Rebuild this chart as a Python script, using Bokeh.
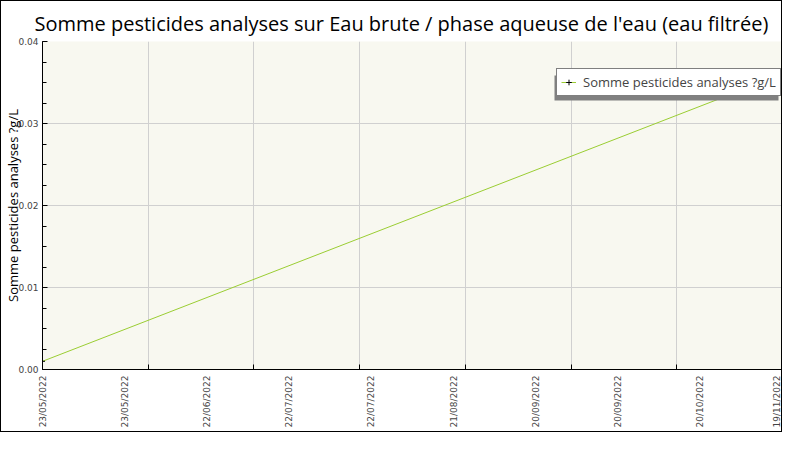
import numpy as np
import pandas as pd
from bokeh.plotting import figure
from bokeh.models import (Range1d, FixedTicker, Legend, LegendItem, BoxAnnotation,
                          CustomJSTickFormatter, NumeralTickFormatter)
from bokeh.embed import file_html
from bokeh.resources import INLINE

# ---- data ----
dates = ["2022-05-23", "2022-11-19"]
values = [0.001, 0.036]
series_name = "Somme pesticides analyses ?g/L"
x_tick_labels = ["23/05/2022", "23/05/2022", "22/06/2022", "22/07/2022", "22/07/2022",
                 "21/08/2022", "20/09/2022", "20/09/2022", "20/10/2022", "19/11/2022"]
y_ticks = [0.0, 0.01, 0.02, 0.03, 0.04]
title_text = "Somme pesticides analyses sur Eau brute / phase aqueuse de l'eau (eau filtrée)"
y_label = "Somme pesticides analyses ?g/L"

t = pd.to_datetime(dates)
ms = ((t - pd.Timestamp("1970-01-01")) // pd.Timedelta(milliseconds=1)).astype(float)
x0, x1 = float(ms.min()), float(ms.max())
n_lab = len(x_tick_labels)
lab_step = (x1 - x0) / (n_lab - 1)
lab_pos = [x0 + i * lab_step for i in range(n_lab)]
grid_pos = list(np.linspace(x0, x1, 8))

p = figure(width=782, height=432, x_axis_type="datetime",
           x_range=Range1d(x0, x1), y_range=Range1d(y_ticks[0], y_ticks[-1]),
           output_backend="svg", toolbar_location=None,
           min_border_left=41, min_border_right=1, min_border_top=40, min_border_bottom=64)
p.styles = {"border": "1px solid black"}

p.background_fill_color = "#f8f8f0"
p.border_fill_color = "white"
p.outline_line_color = None

# title
p.title.text = title_text
p.title.text_font = "Open Sans"
p.title.text_font_size = "20px"
p.title.text_font_style = "normal"
p.title.align = "left"
p.title.offset = -8
p.title.text_color = "black"

# grids
p.xgrid.ticker = FixedTicker(ticks=grid_pos)
p.ygrid.ticker = FixedTicker(ticks=y_ticks)
p.xgrid.grid_line_color = "#d0d0d0"
p.ygrid.grid_line_color = "#d0d0d0"

# x axis
xa = p.xaxis[0]
xa.ticker = FixedTicker(ticks=lab_pos, minor_ticks=grid_pos)
xa.formatter = CustomJSTickFormatter(args=dict(labels=x_tick_labels, x0=x0, step=lab_step),
                                     code="return labels[Math.round((tick - x0) / step)];")
xa.major_label_orientation = np.pi / 2
xa.major_tick_in = 0
xa.major_tick_out = 0
xa.minor_tick_in = 5
xa.minor_tick_out = 0
xa.major_label_text_font = "DejaVu Sans"
xa.major_label_text_font_size = "9px"
xa.major_label_text_color = "#444444"
xa.major_label_standoff = 6
xa.axis_line_color = "black"

# y axis
ya = p.yaxis[0]
ya.ticker = FixedTicker(ticks=y_ticks, minor_ticks=list(np.arange(0, 0.04001, 0.0025)))
ya.formatter = NumeralTickFormatter(format="0.00")
ya.major_tick_in = 5
ya.major_tick_out = 0
ya.minor_tick_in = 4
ya.minor_tick_out = 0
ya.major_label_text_font = "DejaVu Sans"
ya.major_label_text_font_size = "9px"
ya.major_label_text_color = "#444444"
ya.major_label_standoff = 4
ya.axis_label = y_label
ya.axis_label_text_font = "Open Sans"
ya.axis_label_text_font_size = "13px"
ya.axis_label_text_font_style = "normal"
ya.axis_label_text_color = "black"
ya.axis_label_standoff = -7
ya.axis_line_color = "black"

# data
src = dict(x=list(ms), y=values)
ln = p.line(x="x", y="y", source=src, line_color="#9acd32", line_width=1)
sc = p.scatter(x="x", y="y", source=src, marker="cross", size=5, line_color="black", line_width=1)

# legend shadow
shadow = BoxAnnotation(left=552, right=776, top=73, bottom=98,
                       left_units="canvas", right_units="canvas",
                       top_units="canvas", bottom_units="canvas",
                       fill_color="#808080", fill_alpha=1, line_color=None, level="overlay")
p.add_layout(shadow)

legend = Legend(items=[LegendItem(label=series_name, renderers=[ln, sc])],
                location=(514, 273), margin=0, padding=4, spacing=0,
                glyph_width=15, glyph_height=14, label_height=14, label_standoff=7,
                label_text_font="Open Sans", label_text_font_size="13px",
                border_line_color="black", border_line_width=1,
                background_fill_color="white", background_fill_alpha=1)
p.add_layout(legend, "center")

open("out.html", "w").write(file_html(p, INLINE))
